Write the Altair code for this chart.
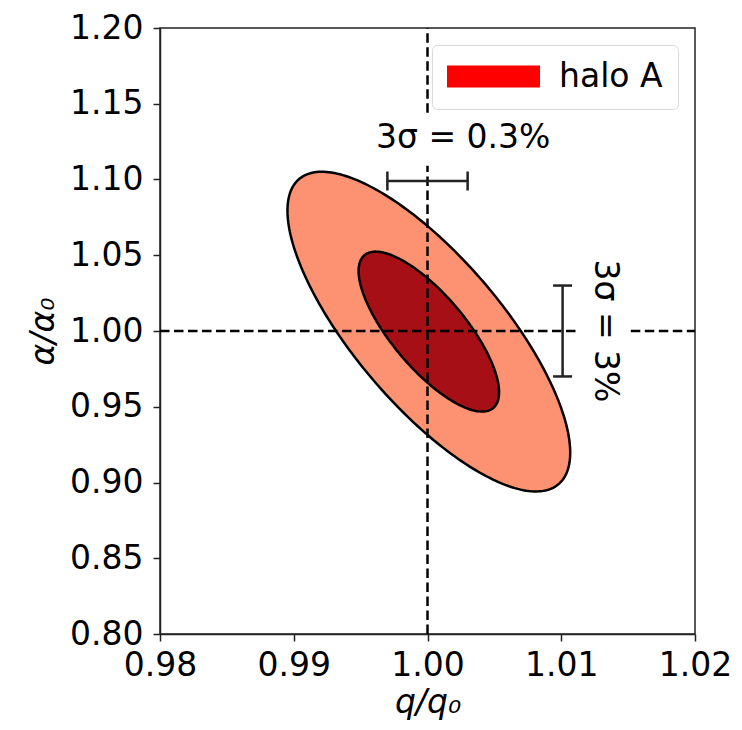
import numpy as np
import pandas as pd
import altair as alt

# ---- data ----
x_ticks = [0.98, 0.99, 1.00, 1.01, 1.02]
y_ticks = [0.80, 0.85, 0.90, 0.95, 1.00, 1.05, 1.10, 1.15, 1.20]

# confidence ellipses (outer, inner): centre, half extents, correlation
ell_names = ["outer", "inner"]
ell_center_q = [1.0001, 1.0001]
ell_center_a = [0.9996, 0.9996]
ell_half_q = [0.01057, 0.00525]
ell_half_a = [0.1055, 0.0528]
ell_rho = [-0.757, -0.757]
ell_fill = ["#FC9272", "#A50F15"]

# dashed reference lines (segments, with gaps where the labels sit)
vline_q = 1.0
vline_segments = [(0.80, 1.109), (1.144, 1.20)]
hline_a = 1.0
hline_segments = [(0.98, 1.0113), (1.0152, 1.02)]

# error bars
herr_a = 1.099
herr_q = (0.997, 1.003)
verr_q = 1.0101
verr_a = (0.97, 1.03)

# annotations
txt_h = "3σ = 0.3%"
txt_h_pos = (1.00267, 1.1206)
txt_v = "3σ = 3%"
txt_v_pos = (1.01252, 1.0)

legend_label = "halo A"
legend_color = "#FF0000"

FONT = "DejaVu Sans"
FS = 33

xscale = alt.Scale(domain=[0.98, 1.02], nice=False, zero=False)
yscale = alt.Scale(domain=[0.80, 1.20], nice=False, zero=False)

xaxis = alt.Axis(values=x_ticks, format=".2f", grid=False, labelFontSize=FS,
                 labelColor="black", tickColor="#222", tickWidth=1.5, tickSize=7,
                 domainColor="#222", domainWidth=1.5, labelPadding=8, labelFlush=False,
                 labelOverlap=False,
                 title="q/q₀", titleFontSize=FS, titleFontStyle="italic",
                 titleFontWeight="normal", titleColor="black",
                 titleAnchor="middle", titleBaseline="alphabetic", titleY=78)
yaxis = alt.Axis(values=y_ticks, format=".2f", grid=False, labelFontSize=FS,
                 labelColor="black", tickColor="#222", tickWidth=1.5, tickSize=7,
                 domainColor="#222", domainWidth=1.5, labelPadding=10, labelFlush=False,
                 labelOverlap=False,
                 title="α/α₀", titleFontSize=FS, titleFontStyle="italic",
                 titleFontWeight="normal", titleColor="black",
                 titleAngle=270, titleAlign="center", titleBaseline="middle",
                 titleX=-117, titleY=303)

# legend carrier (hidden below the ellipses)
legend_df = pd.DataFrame({"q": [ell_center_q[0]], "a": [ell_center_a[0]], "label": [legend_label]})
legend_layer = alt.Chart(legend_df).mark_point(filled=True, size=1, opacity=1).encode(
    x=alt.X("q:Q", scale=xscale, axis=xaxis),
    y=alt.Y("a:Q", scale=yscale, axis=yaxis),
    fill=alt.Fill("label:N", scale=alt.Scale(domain=[legend_label], range=[legend_color]),
                  legend=alt.Legend(title=None, orient="top-right", offset=17,
                                    padding=15, strokeColor="#d9d9d9", fillColor="white",
                                    cornerRadius=5,
                                    symbolType="M-2.818,-0.667H2.818V0.667H-2.818Z",
                                    symbolSize=1089, symbolStrokeWidth=0, symbolOpacity=1,
                                    symbolOffset=30, labelOffset=49,
                                    labelFontSize=FS, labelFont=FONT, labelColor="black")),
)

layers = [legend_layer]

t = np.linspace(0, 2 * np.pi, 241)
for k in range(2):
    phi = np.arccos(ell_rho[k])
    df = pd.DataFrame({
        "i": np.arange(len(t)),
        "q": ell_center_q[k] + ell_half_q[k] * np.cos(t),
        "a": ell_center_a[k] + ell_half_a[k] * np.cos(t - phi),
    })
    layers.append(alt.Chart(df).mark_line(fill=ell_fill[k], stroke="black", strokeWidth=2.5).encode(
        x=alt.X("q:Q", scale=xscale), y=alt.Y("a:Q", scale=yscale), order="i:Q"))

vdf = pd.DataFrame({"q": [vline_q] * len(vline_segments),
                    "a1": [s[0] for s in vline_segments], "a2": [s[1] for s in vline_segments]})
hdf = pd.DataFrame({"a": [hline_a] * len(hline_segments),
                    "q1": [s[0] for s in hline_segments], "q2": [s[1] for s in hline_segments]})
dash = dict(color="black", strokeWidth=2.5, strokeDash=[9.5, 4.5])
layers.append(alt.Chart(vdf).mark_rule(**dash).encode(
    x=alt.X("q:Q", scale=xscale), y=alt.Y("a1:Q", scale=yscale), y2="a2:Q"))
layers.append(alt.Chart(hdf).mark_rule(**dash).encode(
    y=alt.Y("a:Q", scale=yscale), x=alt.X("q1:Q", scale=xscale), x2="q2:Q"))

# error bars
hedf = pd.DataFrame({"a": [herr_a], "q1": [herr_q[0]], "q2": [herr_q[1]]})
layers.append(alt.Chart(hedf).mark_rule(color="#222", strokeWidth=2.5).encode(
    y=alt.Y("a:Q", scale=yscale), x=alt.X("q1:Q", scale=xscale), x2="q2:Q"))
hcaps = pd.DataFrame({"a": [herr_a, herr_a], "q": list(herr_q)})
layers.append(alt.Chart(hcaps).mark_tick(orient="vertical", size=19, thickness=2.5, color="#222", opacity=1).encode(
    y=alt.Y("a:Q", scale=yscale), x=alt.X("q:Q", scale=xscale)))

vedf = pd.DataFrame({"q": [verr_q], "a1": [verr_a[0]], "a2": [verr_a[1]]})
layers.append(alt.Chart(vedf).mark_rule(color="#222", strokeWidth=2.5).encode(
    x=alt.X("q:Q", scale=xscale), y=alt.Y("a1:Q", scale=yscale), y2="a2:Q"))
vcaps = pd.DataFrame({"q": [verr_q, verr_q], "a": list(verr_a)})
layers.append(alt.Chart(vcaps).mark_tick(orient="horizontal", size=19, thickness=2.5, color="#222", opacity=1).encode(
    y=alt.Y("a:Q", scale=yscale), x=alt.X("q:Q", scale=xscale)))

# texts
th = pd.DataFrame({"q": [txt_h_pos[0]], "a": [txt_h_pos[1]], "t": [txt_h]})
layers.append(alt.Chart(th).mark_text(font=FONT, fontSize=FS, align="center", baseline="alphabetic", color="black").encode(
    x=alt.X("q:Q", scale=xscale), y=alt.Y("a:Q", scale=yscale), text="t:N"))
tv = pd.DataFrame({"q": [txt_v_pos[0]], "a": [txt_v_pos[1]], "t": [txt_v]})
layers.append(alt.Chart(tv).mark_text(font=FONT, fontSize=FS, align="center", baseline="alphabetic", angle=90, color="black").encode(
    x=alt.X("q:Q", scale=xscale), y=alt.Y("a:Q", scale=yscale), text="t:N"))

chart = alt.layer(*layers).properties(
    width=535, height=606,
    autosize=alt.AutoSizeParams(type="none"),
    padding={"left": 160, "top": 28, "right": 47, "bottom": 96},
    background="white",
).configure(font=FONT).configure_view(stroke="#222", strokeWidth=1.5)

chart.save("out.html", embed_options={"renderer": "svg", "actions": False})
